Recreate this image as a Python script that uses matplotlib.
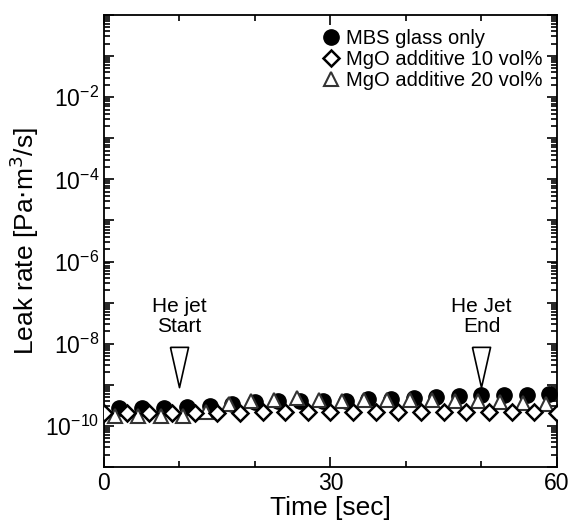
import numpy as np
import matplotlib
matplotlib.use("Agg")
import matplotlib.pyplot as plt
from matplotlib.ticker import LogLocator, FuncFormatter, MultipleLocator, NullFormatter

plt.rcParams['font.family'] = ['Liberation Sans', 'DejaVu Sans']

# MBS glass only (filled circles)
t_mbs = [2, 5, 8, 11, 14, 17, 20, 23, 26, 29, 32, 35, 38, 41, 44, 47, 50, 53, 56, 59]
leak_mbs = [2.7e-10, 2.7e-10, 2.7e-10, 2.85e-10, 3.1e-10, 3.4e-10, 3.75e-10, 4.1e-10, 4.1e-10, 4.1e-10,
            4.1e-10, 4.5e-10, 4.5e-10, 4.7e-10, 5.0e-10, 5.4e-10, 5.6e-10, 5.6e-10, 5.6e-10, 6.0e-10]

# MgO additive 10 vol% (open diamonds)
t_mgo10 = [0, 3, 6, 9, 12, 15, 18, 21, 24, 27, 30, 33, 36, 39, 42, 45, 48, 51, 54, 57, 60]
leak_mgo10 = [2.1e-10, 2.05e-10, 2.05e-10, 2.05e-10, 2.05e-10, 2.1e-10, 2.1e-10, 2.15e-10, 2.15e-10, 2.15e-10,
              2.2e-10, 2.2e-10, 2.2e-10, 2.2e-10, 2.2e-10, 2.2e-10, 2.2e-10, 2.2e-10, 2.2e-10, 2.2e-10, 2.1e-10]

# MgO additive 20 vol% (open triangles)
t_mgo20 = [1.5, 4.5, 7.5, 10.5, 13.5, 16.5, 19.5, 22.5, 25.5, 28.5,
           31.5, 34.5, 37.5, 40.5, 43.5, 46.5, 49.5, 52.5, 55.5, 58.5]
leak_mgo20 = [1.72e-10, 1.72e-10, 1.72e-10, 1.72e-10, 2.15e-10, 3.4e-10, 4.1e-10, 4.3e-10, 4.7e-10, 4.3e-10,
              4.1e-10, 4.3e-10, 4.3e-10, 4.3e-10, 4.3e-10, 4.1e-10, 4.1e-10, 3.9e-10, 3.6e-10, 3.4e-10]

# He jet markers
jet_times = [10, 50]
jet_labels = ["He jet\nStart", "He Jet\nEnd"]

fig = plt.figure(figsize=(5.73, 5.28), dpi=100)
ax = fig.add_axes([0.1815, 0.1155, 0.7905, 0.8561])

ax.plot(t_mbs, leak_mbs, 'o', ms=11, mfc='black', mec='black', ls='none',
        label='MBS glass only', zorder=3)
ax.plot(t_mgo20, leak_mgo20, '^', ms=10, mfc='white', mec='#333333', mew=1.5, ls='none',
        label='MgO additive 20 vol%', zorder=4)
ax.plot(t_mgo10, leak_mgo10, 'D', ms=8.5, mfc='white', mec='black', mew=1.8, ls='none',
        label='MgO additive 10 vol%', zorder=5)

# narrow downward triangles + text
tri = [(-0.45, 1), (0.45, 1), (0, -1), (-0.45, 1)]
for t, lab in zip(jet_times, jet_labels):
    ax.plot([t], [2.7e-9], marker=tri, ms=29, mfc='white', mec='black', mew=1.2, ls='none')
    ax.text(t, 4.6e-8, lab, ha='center', va='center', fontsize=15, linespacing=1.1)

ax.set_yscale('log')
ax.set_xlim(0, 60)
ax.set_ylim(1e-11, 1)

ax.xaxis.set_major_locator(MultipleLocator(30))
ax.xaxis.set_minor_locator(MultipleLocator(10))
ax.yaxis.set_major_locator(LogLocator(base=10, numticks=20))
ax.yaxis.set_minor_locator(LogLocator(base=10, subs=np.arange(2, 10), numticks=20))
ax.yaxis.set_minor_formatter(NullFormatter())


def fmt(v, pos):
    e = int(round(np.log10(v)))
    if e % 2 == 0 and e < 0:
        return r'$\mathregular{10^{%d}}$' % e
    return ''


ax.yaxis.set_major_formatter(FuncFormatter(fmt))

ax.tick_params(which='both', direction='in', top=True, right=True, labelsize=16.5, width=1.2)
ax.tick_params(which='major', length=7)
ax.tick_params(which='minor', length=4)
for s in ax.spines.values():
    s.set_linewidth(1.3)

ax.set_xlabel('Time [sec]', fontsize=19, labelpad=1)
ax.set_ylabel(r'Leak rate [Pa$\cdot$m$^3$/s]', fontsize=19, labelpad=3)

h, l = ax.get_legend_handles_labels()
order = [0, 2, 1]
ax.legend([h[i] for i in order], [l[i] for i in order], loc='upper right', frameon=False,
          fontsize=14.5, handlelength=0.8, handletextpad=0.35, labelspacing=0.1,
          borderaxespad=0.4, borderpad=0.3, markerscale=1.0)

fig.savefig('out.png', dpi=100)
